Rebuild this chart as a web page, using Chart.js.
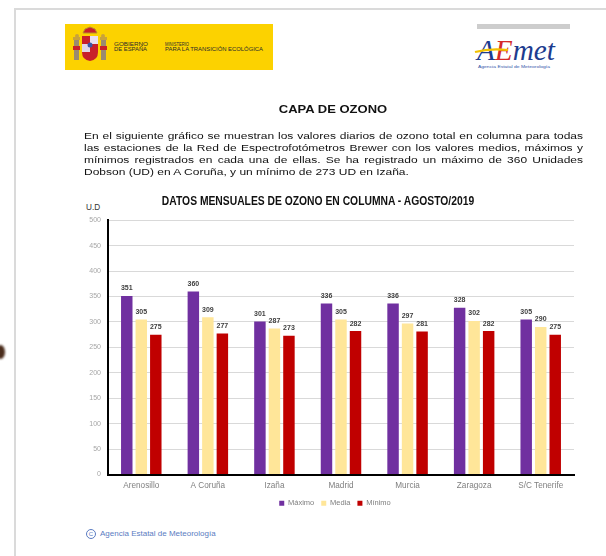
<!DOCTYPE html>
<html>
<head>
<meta charset="utf-8">
<script src="https://cdn.jsdelivr.net/npm/chart.js@4.4.1/dist/chart.umd.min.js"></script>
<style>
html,body{margin:0;padding:0;background:#fff;}
body{width:606px;height:556px;position:relative;overflow:hidden;font-family:"Liberation Sans",Arial,sans-serif;color:#111;}
.abs{position:absolute;}
#frame{left:14px;top:8px;width:600px;height:560px;border-left:2px solid #dadada;border-top:2px solid #dadada;}
#blob{left:-4px;top:345px;width:9px;height:14px;border-radius:50%;background:#4a2c1c;filter:blur(1px);}
#capa{left:200px;width:266px;top:103px;text-align:center;font-weight:bold;font-size:13px;line-height:15px;transform:scaleY(0.8);transform-origin:top center;color:#111;}
#para{left:84px;top:130px;width:499px;font-size:12px;line-height:15px;transform:scaleY(0.8);transform-origin:top left;color:#111;}
#para .j{text-align:justify;text-align-last:justify;}
#ctitle{left:118px;width:400px;top:194px;text-align:center;font-weight:bold;font-size:12px;line-height:14px;transform:scaleX(0.86);transform-origin:center;color:#111;white-space:nowrap;}
#ud{left:86px;top:203px;font-size:8.2px;line-height:10px;color:#333;}
#foot{left:86px;top:528px;font-size:8px;line-height:11px;color:#5a7cc2;white-space:nowrap;}
#foot .c{display:inline-block;width:8px;height:8px;border:1px solid #5a7cc2;border-radius:50%;font-size:6px;line-height:8px;text-align:center;vertical-align:middle;margin-right:4px;}
</style>
</head>
<body>
<div id="frame" class="abs"></div>
<div id="blob" class="abs"></div>

<svg class="abs" style="left:65px;top:24px" width="208" height="46" viewBox="0 0 208 46">
  <rect x="0" y="0" width="208" height="46" fill="#FCD200"/>
  <rect x="9" y="15" width="5" height="21" fill="#9a8a70"/>
  <rect x="36" y="15" width="5" height="21" fill="#9a8a70"/>
  <rect x="8" y="22" width="7" height="4" fill="#c8202a"/>
  <rect x="35" y="22" width="7" height="4" fill="#c8202a"/>
  <rect x="8" y="13" width="7" height="3" fill="#c9a23a"/>
  <rect x="35" y="13" width="7" height="3" fill="#c9a23a"/>
  <path d="M18 9 L20 5 L25 3 L30 5 L32 9 Z" fill="#c8202a" stroke="#b8902a" stroke-width="1"/>
  <path d="M17 12 L33 12 L33 28 Q33 36 25 37 Q17 36 17 28 Z" fill="#c8202a"/>
  <rect x="25" y="12" width="8" height="8" fill="#e8e0f0"/>
  <rect x="17" y="20" width="8" height="8" fill="#e0d8e8"/>
  <circle cx="25" cy="21" r="2.5" fill="#3a55a8"/>
  <circle cx="12" cy="12" r="2" fill="#c9a23a"/>
  <circle cx="38" cy="12" r="2" fill="#c9a23a"/>
  <g font-family="Liberation Sans, Arial, sans-serif" font-size="5" fill="#2a2a2a">
    <text x="49" y="22" textLength="34" lengthAdjust="spacingAndGlyphs">GOBIERNO</text>
    <text x="49" y="27" textLength="33" lengthAdjust="spacingAndGlyphs">DE ESPAÑA</text>
    <text x="100" y="22" textLength="24" lengthAdjust="spacingAndGlyphs">MINISTERIO</text>
    <text x="100" y="27" textLength="98" lengthAdjust="spacingAndGlyphs">PARA LA TRANSICIÓN ECOLÓGICA</text>
  </g>
</svg>

<svg class="abs" style="left:470px;top:20px" width="110" height="55" viewBox="0 0 110 55">
  <rect x="7" y="4" width="93" height="5" fill="#cdcdcd"/>
  <text x="7" y="40" font-family="Liberation Serif, serif" font-style="italic" font-size="30" textLength="78" lengthAdjust="spacingAndGlyphs"><tspan fill="#1d3c8f">A</tspan><tspan fill="#d42a2a">E</tspan><tspan fill="#1d3c8f">met</tspan></text>
  <path d="M5 32 Q20 28 38 30" stroke="#f2c200" stroke-width="2.2" fill="none"/>
  <text x="8" y="48" font-family="Liberation Sans, Arial, sans-serif" font-size="4" fill="#3355aa" textLength="72" lengthAdjust="spacingAndGlyphs">Agencia Estatal de Meteorología</text>
</svg>

<div id="capa" class="abs">CAPA DE OZONO</div>
<div id="para" class="abs">
  <div class="j">En el siguiente gráfico se muestran los valores diarios de ozono total en columna para todas</div>
  <div class="j">las estaciones de la Red de Espectrofotómetros Brewer con los valores medios, máximos y</div>
  <div class="j">mínimos registrados en cada una de ellas. Se ha registrado un máximo de 360 Unidades</div>
  <div>Dobson (UD) en A Coruña, y un mínimo de 273 UD en Izaña.</div>
</div>
<div id="ctitle" class="abs">DATOS MENSUALES DE OZONO EN COLUMNA - AGOSTO/2019</div>
<div id="ud" class="abs">U.D</div>

<canvas id="c" class="abs" width="525" height="308" style="left:60px;top:209px"></canvas>

<div id="foot" class="abs"><span class="c">C</span>Agencia Estatal de Meteorología</div>

<script>
const categories = ["Arenosillo", "A Coruña", "Izaña", "Madrid", "Murcia", "Zaragoza", "S/C Tenerife"];
const maximo = [351, 360, 301, 336, 336, 328, 305];
const media  = [305, 309, 287, 305, 297, 302, 290];
const minimo = [275, 277, 273, 282, 281, 282, 275];
const seriesNames = ["Máximo", "Media", "Mínimo"];
const yMin = 0, yMax = 500, yStep = 50;

const valueLabels = {
  id: 'valueLabels',
  afterDatasetsDraw(chart) {
    const ctx = chart.ctx;
    ctx.save();
    ctx.font = 'bold 7px "Liberation Sans", Arial, sans-serif';
    ctx.fillStyle = '#404040';
    ctx.textAlign = 'center';
    ctx.textBaseline = 'bottom';
    chart.data.datasets.forEach((ds, i) => {
      chart.getDatasetMeta(i).data.forEach((bar, j) => {
        ctx.fillText(String(ds.data[j]), bar.x, bar.y - 4);
      });
    });
    ctx.restore();
  }
};
const legendShift = {
  id: 'legendShift',
  afterLayout(chart) {
    const l = chart.legend;
    if (l) { l.left += 18; l.right += 18; }
  }
};

new Chart(document.getElementById('c'), {
  type: 'bar',
  data: {
    labels: categories,
    datasets: [
      { label: seriesNames[0], data: maximo, backgroundColor: '#7030A0', borderWidth: 0 },
      { label: seriesNames[1], data: media,  backgroundColor: '#FFE699', borderWidth: 0 },
      { label: seriesNames[2], data: minimo, backgroundColor: '#C00000', borderWidth: 0 }
    ]
  },
  options: {
    responsive: false,
    animation: false,
    devicePixelRatio: 1,
    categoryPercentage: 0.654,
    barPercentage: 0.79,
    layout: { padding: { top: 5, left: 0, right: 11, bottom: 0 } },
    plugins: {
      title: { display: false },
      tooltip: { enabled: false },
      legend: {
        position: 'bottom',
        labels: {
          boxWidth: 5, boxHeight: 5, padding: 7,
          color: '#7f7f7f',
          font: { family: '"Liberation Sans", Arial, sans-serif', size: 7.5 }
        }
      }
    },
    scales: {
      x: {
        grid: { display: false, drawTicks: false },
        border: { display: true, color: '#000', width: 2 },
        ticks: {
          color: '#7f7f7f', padding: 6, maxRotation: 0, autoSkip: false,
          font: { family: '"Liberation Sans", Arial, sans-serif', size: 8.2 }
        },
        afterFit(s) { s.height = 18; }
      },
      y: {
        min: yMin, max: yMax,
        grid: { color: '#d9d9d9', lineWidth: 1, drawTicks: false },
        border: { display: true, color: '#000', width: 2 },
        ticks: {
          stepSize: yStep, color: '#a6a6a6', padding: 7,
          font: { family: '"Liberation Sans", Arial, sans-serif', size: 7 }
        },
        afterFit(s) { s.width = 48; }
      }
    }
  },
  plugins: [valueLabels, legendShift]
});
</script>
</body>
</html>
